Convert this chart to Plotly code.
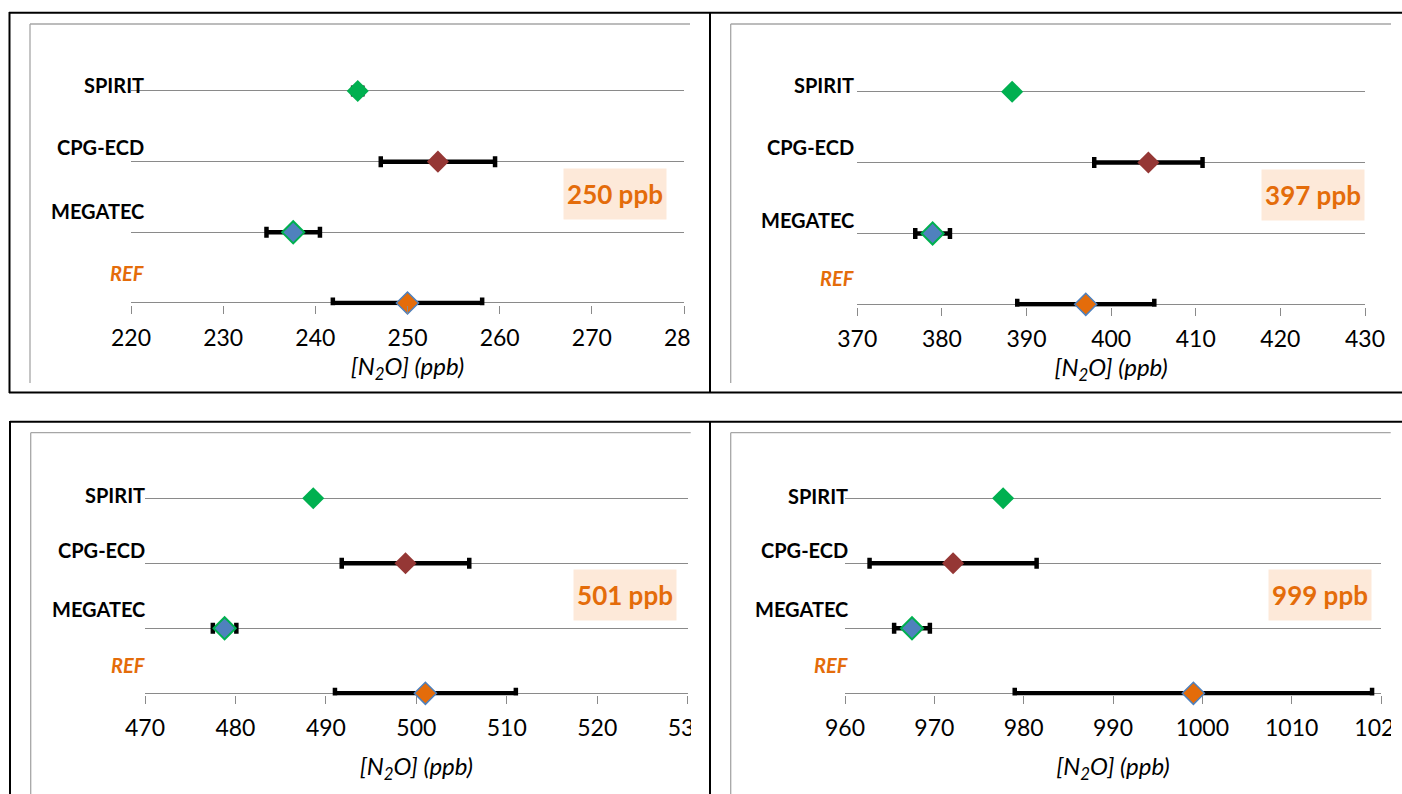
import plotly.graph_objects as go

W, H = 1402, 794

# ---------------- data ----------------
methods = ["REF", "MEGATEC", "CPG-ECD", "SPIRIT"]
method_y = [0, 1, 2, 3]

panel_labels = ["250 ppb", "397 ppb", "501 ppb", "999 ppb"]
x_ranges = [[220, 280], [370, 430], [470, 530], [960, 1020]]
x_tickvals = [
    [220, 230, 240, 250, 260, 270, 280],
    [370, 380, 390, 400, 410, 420, 430],
    [470, 480, 490, 500, 510, 520, 530],
    [960, 970, 980, 990, 1000, 1010, 1020],
]

ref_val = [250.0, 397.0, 501.0, 999.0]
ref_unc = [8.1, 8.1, 10.0, 20.0]
megatec_val = [237.6, 378.9, 478.8, 967.5]
megatec_unc = [2.9, 2.05, 1.3, 2.0]
cpg_val = [253.3, 404.4, 498.8, 972.1]
cpg_unc = [6.2, 6.4, 7.05, 9.35]
spirit_val = [244.6, 388.3, 488.6, 977.7]
spirit_unc = [0.5, 0.3, 0.3, 0.3]

# ---------------- styles ----------------
FONT = "Lato"
GRID = "#8a8a8a"
ORANGE = "#E46C0A"
C_SPIRIT = "#00B050"
C_CPG = "#953735"
C_MEGA = "#4F81BD"
C_REF = "#E46C0A"
MSIZE = 17

# pixel geometry of each panel: plot left, plot right, axis line y, top gridline y
panels = [
    dict(x0=131, x1=684, ya=303.0, yt=91.0),
    dict(x0=857.3, x1=1365, ya=304.3, yt=91.7),
    dict(x0=145, x1=687.7, ya=693.3, yt=498.3),
    dict(x0=845, x1=1381, ya=693.3, yt=498.3),
]
label_dx = [15, -1, 2, 5]
label_dy = [[30, 21, 15, 6], [26, 13, 16, 7], [28, 19, 13, 3], [28, 19, 13, 2]]
box_center = [(614.5, 194), (1313, 195), (625, 594.5), (1319.5, 594.5)]
title_standoff = [2, 0, 18, 18]

Y0, Y1 = -0.033, 3.35


def px(x):
    return x / W


def py(y):
    return 1 - y / H


fig = go.Figure()
layout = dict(
    width=W, height=H, autosize=False,
    margin=dict(l=0, r=0, t=0, b=0, pad=0, autoexpand=False),
    paper_bgcolor="white", plot_bgcolor="white",
    showlegend=False,
    font=dict(family=FONT, color="black"),
)
annotations = []
shapes = []

for i, p in enumerate(panels):
    s = "" if i == 0 else str(i + 1)
    xa, ya = "x" + s, "y" + s
    sp = (p["ya"] - p["yt"]) / 3.0
    bottom_px = p["ya"] - Y0 * sp
    top_px = p["ya"] - Y1 * sp

    layout["xaxis" + s] = dict(
        domain=[px(p["x0"]), px(p["x1"])], range=x_ranges[i], anchor=ya,
        tickvals=x_tickvals[i], ticks="outside", ticklen=8, tickcolor=GRID, tickwidth=1.3,
        ticklabelstandoff=4, ticklabeloverflow="allow", automargin=False,
        showgrid=False, zeroline=False, showline=False,
        tickfont=dict(family=FONT, size=23, color="black"),
        title=dict(text="[N<sub>2</sub>O] (ppb)", standoff=title_standoff[i],
                   font=dict(family=FONT, size=24, style="italic", color="black")),
    )
    layout["yaxis" + s] = dict(
        domain=[py(bottom_px), py(top_px)], range=[Y0, Y1], anchor=xa,
        tickvals=method_y, showticklabels=False, ticks="", automargin=False,
        showgrid=True, gridcolor=GRID, gridwidth=1.3, zeroline=False, showline=False,
    )

    # REF error bar (clipped at the plot edge like the original)
    fig.add_trace(go.Scatter(
        x=[ref_val[i]], y=[method_y[0]], xaxis=xa, yaxis=ya, mode="markers",
        marker=dict(size=MSIZE, opacity=0),
        error_x=dict(type="data", array=[ref_unc[i]], color="black", thickness=4.5, width=5.5),
        cliponaxis=True, hoverinfo="skip",
    ))
    series = [
        (megatec_val[i], megatec_unc[i], method_y[1], C_MEGA, C_SPIRIT, 2),
        (cpg_val[i], cpg_unc[i], method_y[2], C_CPG, C_CPG, 0),
        (spirit_val[i], spirit_unc[i], method_y[3], C_SPIRIT, C_SPIRIT, 0),
    ]
    for v, u, yy, fc, lc, lw in series:
        fig.add_trace(go.Scatter(
            x=[v], y=[yy], xaxis=xa, yaxis=ya, mode="markers",
            marker=dict(symbol="diamond", size=MSIZE, color=fc, line=dict(color=lc, width=lw)),
            error_x=dict(type="data", array=[u], color="black", thickness=4.5, width=5.5),
            cliponaxis=False,
        ))
    fig.add_trace(go.Scatter(
        x=[ref_val[i]], y=[method_y[0]], xaxis=xa, yaxis=ya, mode="markers",
        marker=dict(symbol="diamond", size=MSIZE, color=C_REF, line=dict(color=C_MEGA, width=1.5)),
        cliponaxis=False,
    ))

    # category labels
    for k, m in enumerate(methods):
        is_ref = m == "REF"
        annotations.append(dict(
            text=m, xref=xa + " domain", x=0, xshift=label_dx[i], xanchor="right",
            yref=ya, y=method_y[k], yshift=label_dy[i][k], yanchor="middle",
            showarrow=False,
            font=dict(family=FONT, size=20, weight="bold",
                      style="italic" if is_ref else "normal",
                      color=ORANGE if is_ref else "black"),
        ))

    # concentration box
    bx, by = box_center[i]
    annotations.append(dict(
        text=panel_labels[i], xref="paper", yref="paper", x=px(bx), y=py(by),
        xanchor="center", yanchor="middle", showarrow=False,
        width=100, height=48, bgcolor="#FDE9D9",
        font=dict(family=FONT, size=26, weight="bold", color=ORANGE),
    ))


def line(x0, y0, x1, y1, color, width, layer="above"):
    shapes.append(dict(type="line", xref="paper", yref="paper",
                       x0=px(x0), y0=py(y0), x1=px(x1), y1=py(y1),
                       line=dict(color=color, width=width), layer=layer))


def rect(x0, y0, x1, y1):
    shapes.append(dict(type="rect", xref="paper", yref="paper",
                       x0=px(x0), y0=py(y0), x1=px(x1), y1=py(y1),
                       line=dict(width=0), fillcolor="white", layer="above"))


# clipped chart areas (hide overflowing tick labels)
rect(690.5, 318, 708.5, 358)
rect(691, 708, 708.5, 748)
rect(1391, 708, 1402, 748)

# chart-area borders (grey)
CA = "#a6a6a6"
line(30, 24, 690, 24, CA, 1.3)
line(30, 24, 30, 383, CA, 1.3)
line(730.7, 24, 1391, 24, CA, 1.3)
line(730.7, 24, 730.7, 383, CA, 1.3)
line(30.7, 432.7, 690.7, 432.7, CA, 1.3)
line(30.7, 432.7, 30.7, 794, CA, 1.3)
line(730.7, 432.7, 1390.7, 432.7, CA, 1.3)
line(730.7, 432.7, 730.7, 794, CA, 1.3)

# table borders (black)
line(9, 12.7, 1402, 12.7, "black", 2)
line(9, 392.5, 1402, 392.5, "black", 2)
line(9.5, 12, 9.5, 393, "black", 2)
line(710, 12, 710, 393, "black", 2)
line(10, 421.7, 1402, 421.7, "black", 2)
line(10, 421, 10, 794, "black", 2)
line(710, 421, 710, 794, "black", 2)

layout["annotations"] = annotations
layout["shapes"] = shapes
fig.update_layout(**layout)
fig.write_html(
    "out.html",
    config={"displayModeBar": False},
    post_script="document.body.style.margin='0';document.body.style.overflow='hidden';",
)
